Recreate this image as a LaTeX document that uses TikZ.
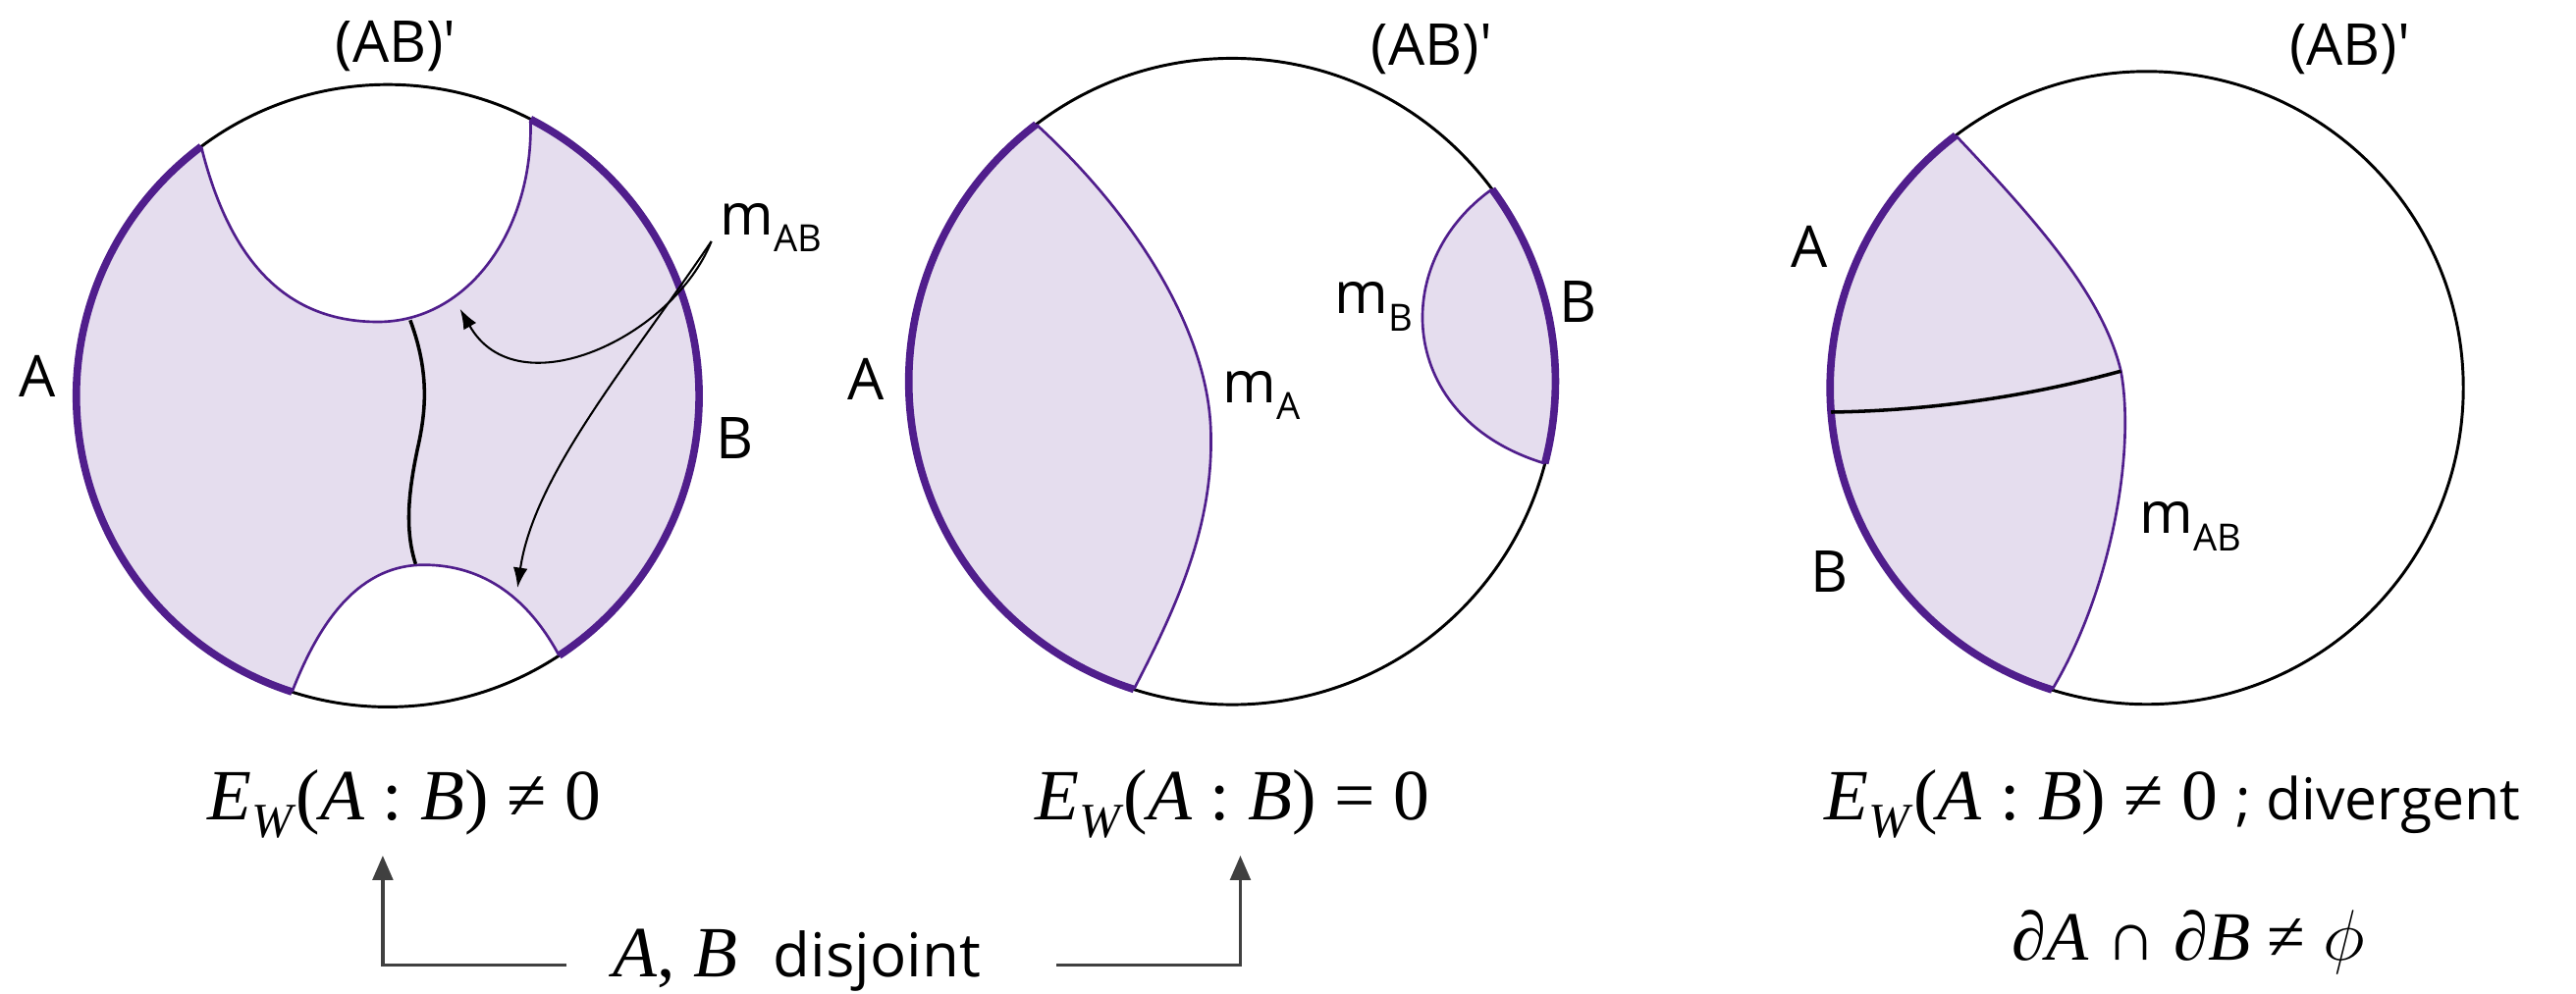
\documentclass[tikz,border=0pt]{standalone}
\usepackage{fontspec}
\setmainfont{Liberation Serif}
\newfontfamily\labfont{Open Sans}[Ligatures=TeXOff]
\usetikzlibrary{arrows.meta}
\definecolor{pur}{RGB}{80,30,140}
\definecolor{lav}{RGB}{229,221,238}
\definecolor{arrg}{RGB}{64,64,64}
\newcommand{\lsub}[1]{\raisebox{-0.3em}{\fontsize{13}{13}\selectfont #1}}
\newcommand{\EW}{\textit{E}\raisebox{-0.25em}{\fontsize{17}{17}\selectfont\textit{W}}}
\begin{document}
\begin{tikzpicture}[x=0.02cm,y=-0.02cm]
\tikzset{
  circ/.style={black, line width=1pt},
  thickarc/.style={pur, line width=2.6pt},
  geod/.style={pur, line width=0.9pt},
  lab/.style={font=\labfont\fontsize{20}{24}\selectfont, inner sep=0pt},
  mtxt/.style={font=\fontsize{25}{30}\selectfont, inner sep=0pt},
  conn/.style={arrg, line width=1.2pt, -{Triangle[width=7pt,length=8.5pt]}},
  ptr/.style={black, line width=0.7pt, -{Latex[length=7pt,width=5pt]}},
  wavy/.style={black, line width=1.2pt},
}
\useasboundingbox (0,0) rectangle (1568,605);

% ---------- Panel 1 ----------
\coordinate (C1) at (236,241);
\coordinate (P1) at ([shift={(233.2:189.5)}]C1);
\coordinate (P2) at ([shift={(-62.7:189.5)}]C1);
\coordinate (P3) at ([shift={(107.9:189.5)}]C1);
\coordinate (P4) at ([shift={(56.6:189.5)}]C1);
\fill[lav] (P3) arc[start angle=107.9,end angle=233.2,radius=189.5]
  .. controls (140,160) and (175,196) .. (230,196)
  .. controls (285,196) and (325,140) .. (P2)
  arc[start angle=-62.7,end angle=56.6,radius=189.5]
  .. controls (322,365) and (295,344) .. (258,344)
  .. controls (215,344) and (192,385) .. (P3) -- cycle;
\draw[circ] (C1) circle[radius=189.5];
\draw[thickarc] (P3) arc[start angle=107.9,end angle=233.2,radius=189.5];
\draw[thickarc] (P2) arc[start angle=-62.7,end angle=56.6,radius=189.5];
\draw[geod] (P1) .. controls (140,160) and (175,196) .. (230,196)
  .. controls (285,196) and (325,140) .. (P2);
\draw[geod] (P4) .. controls (322,365) and (295,344) .. (258,344)
  .. controls (215,344) and (192,385) .. (P3);
\coordinate (wt) at (249.7,195);
\coordinate (wb) at (253,343.5);
\draw[wavy] (wt) .. controls (262,228) and (259,252) .. (254,274)
  .. controls (249,298) and (246,322) .. (wb);
\node[lab] (A1) at (23,229) {A};
\node[lab] (B1) at (447,267) {B};
\node[lab, anchor=base] (t1) at (241,38) {(AB)'};
\node[lab, anchor=base west] (mab1) at (438,143) {m\lsub{AB}};
\coordinate (mS) at (433,147);
\coordinate (tipU) at (280,188);
\coordinate (tipL) at (315,358);
\draw[ptr] (mS) .. controls (410,205) and (315,250) .. (tipU);
\draw[ptr] (mS) .. controls (380,225) and (325,290) .. (tipL);

% ---------- Panel 2 ----------
\coordinate (C2) at (750,232.3);
\coordinate (Q1) at ([shift={(232.7:196.8)}]C2);
\coordinate (Q2) at ([shift={(107.7:196.8)}]C2);
\coordinate (Q3) at ([shift={(-36.5:196.8)}]C2);
\coordinate (Q4) at ([shift={(14.7:196.8)}]C2);
\coordinate (Mx) at (737,262);
\fill[lav] (Q2) arc[start angle=107.7,end angle=232.7,radius=196.8]
  .. controls (690,130) and (735,200) .. (Mx)
  .. controls (739,320) and (716,370) .. (Q2) -- cycle;
\fill[lav] (Q3) arc[start angle=-36.5,end angle=14.7,radius=196.8]
  .. controls (850,255) and (845,160) .. (Q3) -- cycle;
\draw[circ] (C2) circle[radius=196.8];
\draw[thickarc] (Q2) arc[start angle=107.7,end angle=232.7,radius=196.8];
\draw[thickarc] (Q3) arc[start angle=-36.5,end angle=14.7,radius=196.8];
\draw[geod] (Q1) .. controls (690,130) and (735,200) .. (Mx)
  .. controls (739,320) and (716,370) .. (Q2);
\draw[geod] (Q3) .. controls (845,160) and (850,255) .. (Q4);
\node[lab] (A2) at (527,231) {A};
\node[lab] (B2) at (960.5,184) {B};
\node[lab, anchor=base west] (ma) at (744,245) {m\lsub{A}};
\node[lab, anchor=base west] (mb) at (812,191) {m\lsub{B}};
\node[lab, anchor=base] (t2) at (871.5,40) {(AB)'};

% ---------- Panel 3 ----------
\coordinate (C3) at (1306.7,236.2);
\coordinate (R1) at ([shift={(232.9:192.7)}]C3);
\coordinate (R2) at ([shift={(107.4:192.7)}]C3);
\coordinate (Wp) at ([shift={(175.6:192.7)}]C3);
\coordinate (J) at (1291,226);
\fill[lav] (R2) arc[start angle=107.4,end angle=232.9,radius=192.7]
  .. controls (1240,135) and (1280,180) .. (J)
  .. controls (1300,275) and (1285,360) .. (R2) -- cycle;
\draw[circ] (C3) circle[radius=192.7];
\draw[thickarc] (R2) arc[start angle=107.4,end angle=232.9,radius=192.7];
\draw[geod] (R1) .. controls (1240,135) and (1280,180) .. (J)
  .. controls (1300,275) and (1285,360) .. (R2);
\draw[wavy] (Wp) .. controls (1180,250) and (1240,240) .. (J);
\node[lab] (A3) at (1101.5,150.4) {A};
\node[lab] (B3) at (1113.7,348) {B};
\node[lab, anchor=base west] (mab3) at (1302,325) {m\lsub{AB}};
\node[lab, anchor=base] (t3) at (1430.4,40) {(AB)'};

% ---------- Bottom texts ----------
\node[mtxt, anchor=base] (ew1) at (246,499) {\EW(\textit{A} : \textit{B}) ≠ 0};
\node[mtxt, anchor=base] (ew2) at (750,499) {\EW(\textit{A} : \textit{B}) = 0};
\node[mtxt, anchor=base] (ew3) at (1322.5,499) {\EW(\textit{A} : \textit{B}) ≠ 0 {\labfont\fontsize{20}{24}\selectfont ; divergent}};
\node[mtxt, anchor=base] (dj) at (485,595) {\textit{A}, \textit{B}\ \ {\labfont\fontsize{21}{24}\selectfont disjoint}};
\node[mtxt, anchor=base, font=\fontsize{24}{28}\selectfont] (dd) at (1332,584.6) {∂\textit{A} ∩ ∂\textit{B} ≠ $\phi$};
\coordinate (jl) at (345,587.6);
\coordinate (jr) at (643,587.6);
\coordinate (u1) at (233,521);
\coordinate (u2) at (755,521);
\draw[conn] (jl) -| (u1);
\draw[conn] (jr) -| (u2);
\end{tikzpicture}
\end{document}
